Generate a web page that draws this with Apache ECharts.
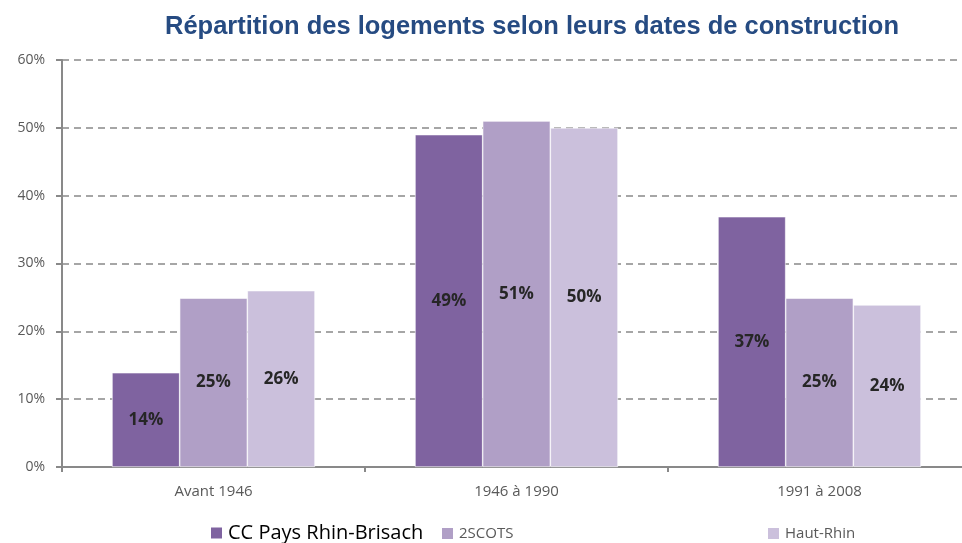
<!DOCTYPE html>
<html>
<head>
<meta charset="utf-8">
<script src="https://cdn.jsdelivr.net/npm/echarts@6/dist/echarts.min.js"></script>
<style>
html, body { margin: 0; padding: 0; background: #fff; overflow: hidden; }
#main { width: 971px; height: 543px; }
</style>
</head>
<body>
<div id="main"></div>
<script>
// données
var categories = ["Avant 1946", "1946 à 1990", "1991 à 2008"];
var seriesNames = ["CC Pays Rhin-Brisach", "2SCOTS", "Haut-Rhin"];
var ccPays = [13.9, 49, 36.9];
var scots = [24.9, 51, 24.9];
var hautRhin = [26, 50, 23.9];
var colors = ["#7F63A0", "#B09FC6", "#CBC0DC"];

// le graphique dépasse un peu à droite de la fenêtre, comme l'original
var myChart = echarts.init(document.getElementById('main'));

function barSerie(name, data, color) {
	return {
		name: name,
		type: 'bar',
		data: data,
		barGap: '0%',
		barCategoryGap: '33%',
		itemStyle: { color: color, borderColor: '#fff', borderWidth: 0.6 },
		label: {
			show: true,
			position: 'inside',
			formatter: function(p) { return Math.round(p.value) + '%'; },
			color: '#262626',
			fontSize: 17,
			fontWeight: 'bold',
			fontFamily: 'Open Sans'
		}
	};
}

function legendItem(name, left, top, size, color) {
	return {
		data: [name],
		left: left,
		top: top,
		padding: 0,
		icon: 'rect',
		itemWidth: 13,
		itemHeight: 13,
		itemGap: 0,
		textStyle: { fontSize: size, color: color, fontFamily: 'Open Sans' }
	};
}

var option = {
	backgroundColor: '#FFFFFF',
	color: colors,
	title: {
		text: 'Répartition des logements selon leurs dates de construction',
		left: 160,
		top: 9,
		textStyle: {
			color: '#264B82',
			fontSize: 25.5,
			fontWeight: 'bold',
			fontFamily: 'Liberation Sans'
		}
	},
	legend: [
		legendItem(seriesNames[0], 209, 523, 20, '#000'),
		legendItem(seriesNames[1], 440, 526, 15, '#595959'),
		legendItem(seriesNames[2], 766, 526, 15, '#595959')
	],
	grid: { left: 62, right: 0, top: 60, bottom: 76 },
	xAxis: {
		type: 'category',
		data: categories,
		axisLine: { lineStyle: { color: '#898989', width: 2 } },
		axisTick: { show: true, length: 5, lineStyle: { color: '#898989', width: 2 } },
		axisLabel: { color: '#595959', fontSize: 15, margin: 17, fontFamily: 'Open Sans' }
	},
	yAxis: {
		type: 'value',
		min: 0,
		max: 60,
		interval: 10,
		axisLine: { show: true, lineStyle: { color: '#898989', width: 2 } },
		axisTick: { show: true, length: 6, lineStyle: { color: '#898989', width: 2 } },
		axisLabel: { formatter: '{value}%', color: '#595959', fontSize: 14, margin: 17, fontFamily: 'Open Sans' },
		splitLine: { lineStyle: { color: '#A6A6A6', type: [7, 5], width: 2 } }
	},
	series: [
		barSerie(seriesNames[0], ccPays, colors[0]),
		barSerie(seriesNames[1], scots, colors[1]),
		barSerie(seriesNames[2], hautRhin, colors[2])
	]
};

myChart.setOption(option);
</script>
</body>
</html>
